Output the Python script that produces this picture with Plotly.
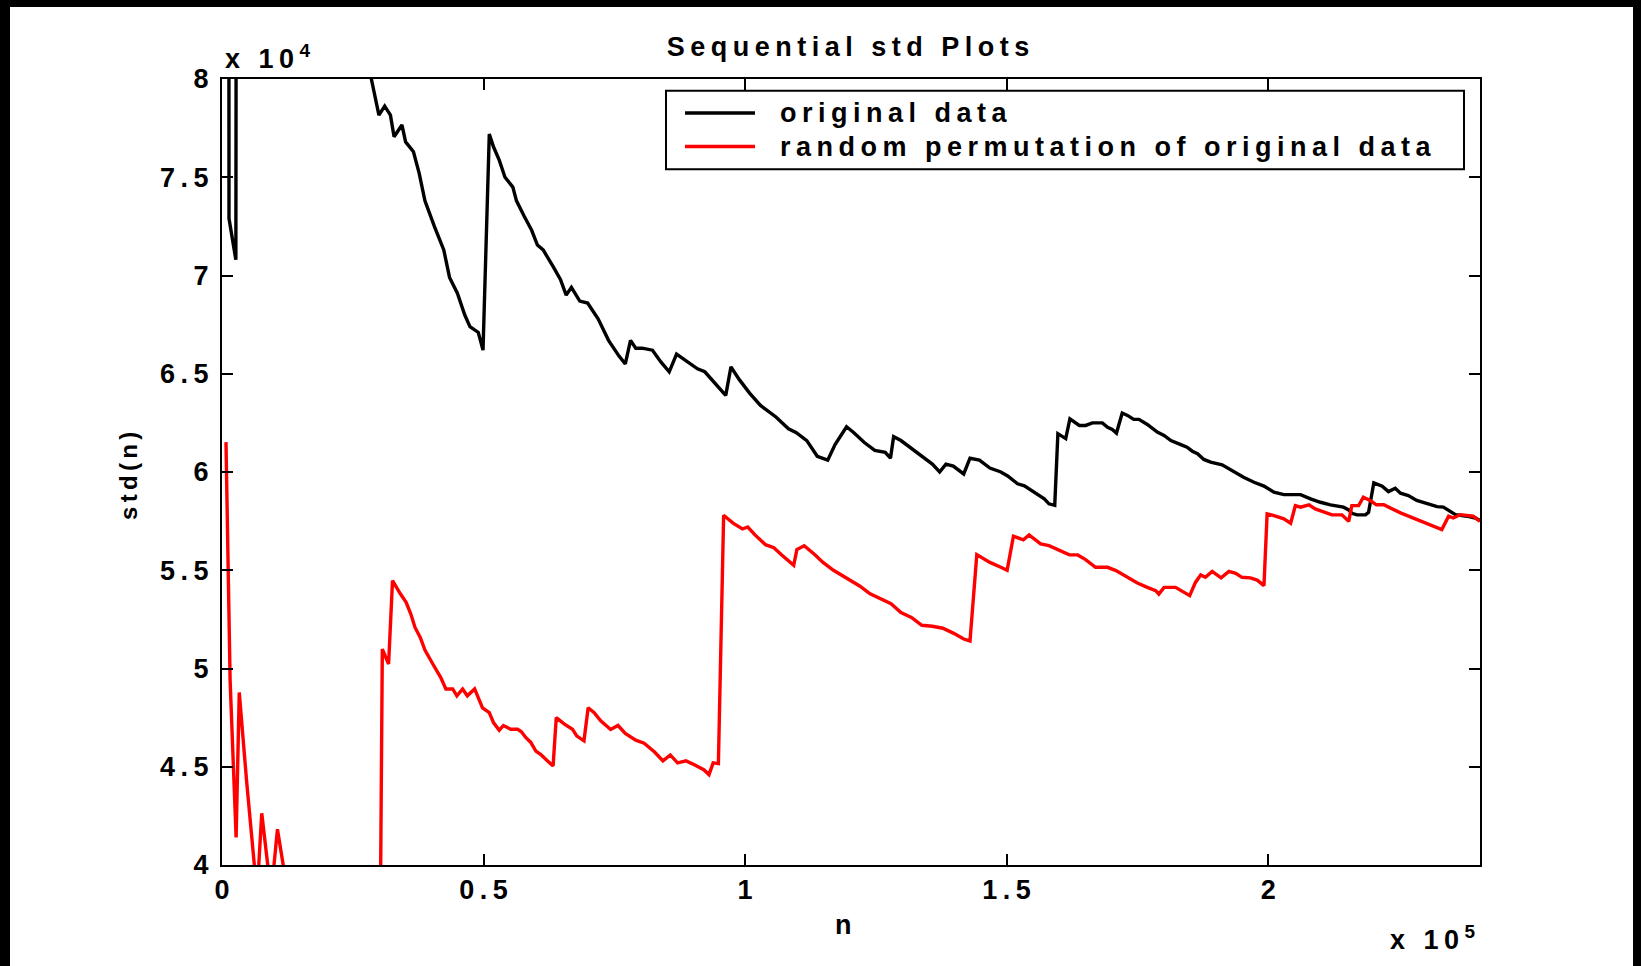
import plotly.graph_objects as go

# ---- data (n in units of 1e5, std in units of 1e4) ----
n_orig = [0.0085, 0.0128, 0.0134, 0.0265, 0.0275, 0.06, 0.12, 0.20, 0.2855, 0.300, 0.311, 0.322,
          0.329, 0.344, 0.351, 0.366, 0.377, 0.388, 0.406, 0.424, 0.435, 0.450, 0.464, 0.474,
          0.490, 0.499, 0.511, 0.519, 0.530, 0.541, 0.556, 0.563, 0.578, 0.592, 0.603, 0.614,
          0.632, 0.647, 0.658, 0.668, 0.684, 0.699, 0.719, 0.739, 0.759, 0.771, 0.781, 0.791,
          0.803, 0.823, 0.839, 0.855, 0.869, 0.889, 0.909, 0.923, 0.939, 0.955, 0.963, 0.973,
          0.989, 1.009, 1.029, 1.059, 1.083, 1.098, 1.118, 1.138, 1.158, 1.172, 1.194, 1.208,
          1.228, 1.248, 1.268, 1.278, 1.284, 1.298, 1.318, 1.338, 1.358, 1.372, 1.384, 1.398,
          1.418, 1.430, 1.448, 1.468, 1.489, 1.502, 1.521, 1.534, 1.553, 1.572, 1.581, 1.592,
          1.598, 1.613, 1.621, 1.639, 1.651, 1.664, 1.683, 1.693, 1.702, 1.710, 1.721, 1.731,
          1.743, 1.753, 1.769, 1.788, 1.801, 1.814, 1.833, 1.845, 1.855, 1.865, 1.877, 1.890,
          1.912, 1.934, 1.953, 1.973, 1.992, 2.011, 2.030, 2.062, 2.081, 2.100, 2.119, 2.144,
          2.154, 2.160, 2.170, 2.186, 2.192, 2.202, 2.218, 2.230, 2.243, 2.253, 2.268, 2.284,
          2.303, 2.323, 2.335, 2.348, 2.358, 2.380, 2.396, 2.405]
std_orig = [10.8, 10.2, 7.29, 7.08, 9.4, 9.9, 9.6, 8.9, 8.0, 7.816, 7.862, 7.816,
            7.706, 7.766, 7.68, 7.63, 7.52, 7.38, 7.25, 7.13, 6.99, 6.91, 6.80, 6.74,
            6.71, 6.62, 7.72, 7.655, 7.587, 7.50, 7.45, 7.38, 7.30, 7.23, 7.155, 7.13,
            7.05, 6.98, 6.90, 6.94, 6.87, 6.86, 6.78, 6.67, 6.59, 6.55, 6.67, 6.63,
            6.63, 6.62, 6.56, 6.51, 6.60, 6.56, 6.525, 6.51, 6.46, 6.41, 6.39, 6.535,
            6.47, 6.40, 6.34, 6.28, 6.22, 6.20, 6.16, 6.08, 6.06, 6.14, 6.23, 6.20,
            6.15, 6.11, 6.10, 6.07, 6.18, 6.16, 6.12, 6.08, 6.04, 6.00, 6.04, 6.03,
            5.99, 6.07, 6.06, 6.02, 6.00, 5.98, 5.94, 5.93, 5.897, 5.863, 5.838, 5.83,
            6.195, 6.17, 6.27, 6.237, 6.237, 6.25, 6.25, 6.228, 6.217, 6.198, 6.30, 6.288,
            6.268, 6.268, 6.242, 6.203, 6.186, 6.16, 6.139, 6.126, 6.106, 6.093, 6.064, 6.05,
            6.037, 6.004, 5.973, 5.948, 5.928, 5.897, 5.885, 5.885, 5.863, 5.846, 5.833, 5.821,
            5.807, 5.79, 5.782, 5.782, 5.795, 5.945, 5.928, 5.90, 5.917, 5.892, 5.88, 5.855,
            5.838, 5.824, 5.821, 5.80, 5.783, 5.775, 5.766, 5.753]

n_perm = [0.0076, 0.0122, 0.0155, 0.027, 0.033, 0.047, 0.057, 0.067, 0.076, 0.094, 0.106,
          0.117, 0.126, 0.20, 0.302, 0.3065, 0.3185, 0.326, 0.341, 0.352, 0.361, 0.369, 0.379,
          0.388, 0.403, 0.418, 0.428, 0.441, 0.449, 0.460, 0.469, 0.483, 0.498, 0.511, 0.519,
          0.530, 0.538, 0.552, 0.565, 0.572, 0.581, 0.590, 0.600, 0.609, 0.622, 0.633, 0.639,
          0.654, 0.670, 0.678, 0.692, 0.700, 0.711, 0.724, 0.743, 0.757, 0.771, 0.791, 0.807,
          0.827, 0.843, 0.857, 0.871, 0.887, 0.903, 0.921, 0.931, 0.939, 0.949, 0.959, 0.977,
          0.995, 1.005, 1.019, 1.039, 1.055, 1.069, 1.093, 1.099, 1.113, 1.133, 1.149, 1.169,
          1.195, 1.219, 1.239, 1.263, 1.279, 1.298, 1.318, 1.338, 1.358, 1.378, 1.398, 1.418,
          1.430, 1.443, 1.468, 1.489, 1.501, 1.513, 1.524, 1.532, 1.543, 1.553, 1.565, 1.581,
          1.597, 1.620, 1.636, 1.651, 1.670, 1.693, 1.709, 1.728, 1.750, 1.769, 1.785, 1.791,
          1.801, 1.823, 1.839, 1.850, 1.861, 1.871, 1.880, 1.893, 1.910, 1.925, 1.938, 1.950,
          1.966, 1.979, 1.992, 1.998, 2.011, 2.030, 2.043, 2.052, 2.062, 2.078, 2.090, 2.106,
          2.122, 2.141, 2.154, 2.160, 2.173, 2.182, 2.195, 2.207, 2.221, 2.253, 2.291, 2.332,
          2.345, 2.354, 2.367, 2.392, 2.405]
std_perm = [6.152, 5.447, 4.94, 4.14, 4.878, 4.428, 4.122, 3.85, 4.263, 3.85, 4.182,
            4.0, 3.6, 3.4, 3.5, 5.099, 5.023, 5.447, 5.38, 5.337, 5.277, 5.209, 5.158,
            5.094, 5.023, 4.955, 4.896, 4.896, 4.861, 4.896, 4.861, 4.896, 4.80, 4.776, 4.725,
            4.686, 4.71, 4.691, 4.691, 4.679, 4.648, 4.625, 4.58, 4.563, 4.53, 4.504, 4.75,
            4.718, 4.691, 4.657, 4.632, 4.80, 4.776, 4.734, 4.69, 4.71, 4.67, 4.635, 4.62,
            4.575, 4.53, 4.56, 4.52, 4.53, 4.51, 4.485, 4.46, 4.52, 4.516, 5.78, 5.74,
            5.71, 5.72, 5.68, 5.63, 5.615, 5.58, 5.525, 5.605, 5.625, 5.58, 5.54, 5.50,
            5.46, 5.42, 5.38, 5.35, 5.33, 5.285, 5.26, 5.22, 5.215, 5.205, 5.18, 5.15,
            5.14, 5.58, 5.54, 5.515, 5.50, 5.673, 5.665, 5.655, 5.68, 5.66, 5.634, 5.625,
            5.605, 5.578, 5.578, 5.554, 5.515, 5.515, 5.498, 5.467, 5.435, 5.413, 5.396, 5.379,
            5.413, 5.413, 5.388, 5.371, 5.438, 5.476, 5.464, 5.494, 5.461, 5.494, 5.484, 5.464,
            5.461, 5.45, 5.422, 5.787, 5.778, 5.762, 5.739, 5.829, 5.821, 5.833, 5.812, 5.799,
            5.782, 5.782, 5.749, 5.829, 5.829, 5.872, 5.855, 5.833, 5.833, 5.792, 5.749, 5.707,
            5.775, 5.766, 5.783, 5.775, 5.749]

x_tickvals = [0, 0.5, 1, 1.5, 2]
x_ticktext = ["0", "0.5", "1", "1.5", "2"]
y_tickvals = [4, 4.5, 5, 5.5, 6, 6.5, 7, 7.5, 8]
y_ticktext = ["4", "4.5", "5", "5.5", "6", "6.5", "7", "7.5", "8"]

series_names = ["original data", "random permutation of original data"]
series_colors = ["#000000", "#ff0000"]

# ---- figure geometry ----
W, H = 1641, 966
ML, MR, MT, MB = 222, 161, 79, 101
PW, PH = W - ML - MR, H - MT - MB

FONT = "Liberation Sans, Arial, Helvetica, sans-serif"
FS = 27
LS = 5.5  # letter spacing (px)


def spaced(s, ls=LS, trail=False):
    """Letter-spaced text; the last glyph gets no trailing gap unless trail=True."""
    if trail:
        return f"<span style='letter-spacing:{ls}px'>{s}</span>"
    if len(s) <= 1:
        return s
    return f"<span style='letter-spacing:{ls}px'>{s[:-1]}</span>{s[-1]}"


def px(x):
    return (x - ML) / PW


def py(y):
    return 1 - (y - MT) / PH


fig = go.Figure()
fig.add_trace(go.Scatter(x=n_orig, y=std_orig, mode="lines", name=series_names[0],
                         line=dict(color=series_colors[0], width=3.4)))
fig.add_trace(go.Scatter(x=n_perm, y=std_perm, mode="lines", name=series_names[1],
                         line=dict(color=series_colors[1], width=3.4)))

txt = dict(family=FONT, size=FS, color="black", weight="bold")
txt_ylab = dict(family=FONT, size=24, color="black", weight="bold")

axis_common = dict(
    ticks="inside", ticklen=11, tickwidth=2, tickcolor="black",
    showline=True, linewidth=2, linecolor="black", mirror="ticks",
    showgrid=False, zeroline=False, tickfont=txt,
)
fig.update_xaxes(range=[0, 2.405], tickmode="array", tickvals=x_tickvals,
                 ticktext=[spaced(t) for t in x_ticktext], ticklabelstandoff=0,
                 **axis_common)
fig.update_yaxes(range=[4, 8], tickmode="array", tickvals=y_tickvals,
                 ticktext=[spaced(t) for t in y_ticktext], ticklabelstandoff=6,
                 **axis_common)

shapes = []
# legend box and sample lines
shapes.append(dict(type="rect", xref="paper", yref="paper", x0=px(666), x1=px(1464),
                   y0=py(169.3), y1=py(90.7), line=dict(color="black", width=2),
                   fillcolor="white", layer="above"))
legend_rows = [113, 146.5]
for i, yy in enumerate(legend_rows):
    shapes.append(dict(type="line", xref="paper", yref="paper", x0=px(685), x1=px(755),
                       y0=py(yy), y1=py(yy), line=dict(color=series_colors[i], width=3.4),
                       layer="above"))
# black frame around the figure
frame = [(0, 10, 0, H), (0, W, 0, 7), (1633, W, 0, H)]
for x0, x1, y0, y1 in frame:
    shapes.append(dict(type="rect", xref="paper", yref="paper", x0=px(x0), x1=px(x1),
                       y0=py(y1), y1=py(y0), line=dict(width=0), fillcolor="black",
                       layer="above"))

annotations = []
for i, yy in enumerate(legend_rows):
    annotations.append(dict(xref="paper", yref="paper", x=px(778), y=py(yy),
                            xanchor="left", yanchor="middle", showarrow=False,
                            text=spaced(series_names[i]), font=txt))
annotations += [
    dict(xref="paper", yref="paper", x=px(843), y=py(925), xanchor="center", yanchor="middle",
         showarrow=False, text="n", font=txt),
    dict(xref="paper", yref="paper", x=px(128), y=py(476), xanchor="center", yanchor="middle",
         showarrow=False, text=spaced("std(n)", ls=4.3), font=txt_ylab, textangle=-90),
    dict(xref="paper", yref="paper", x=px(223), y=py(57), xanchor="left", yanchor="middle",
         showarrow=False, text=spaced("x 10", trail=True) + "<sup>4</sup>", font=txt),
    dict(xref="paper", yref="paper", x=px(1388), y=py(938), xanchor="left", yanchor="middle",
         showarrow=False, text=spaced("x 10", trail=True) + "<sup>5</sup>", font=txt),
]

fig.update_layout(
    width=W, height=H, autosize=False,
    margin=dict(l=ML, r=MR, t=MT, b=MB),
    paper_bgcolor="white", plot_bgcolor="white",
    title=dict(text=spaced("Sequential std Plots"), font=txt, xref="paper", x=px(848),
               xanchor="center", yref="container", y=1 - 47 / H, yanchor="middle"),
    showlegend=False, shapes=shapes, annotations=annotations,
)

fig.write_html("out.html")
